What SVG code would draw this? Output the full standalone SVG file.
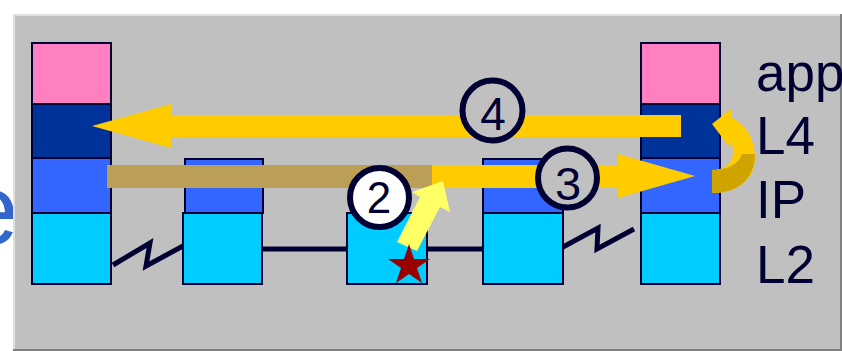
<svg xmlns="http://www.w3.org/2000/svg" width="842" height="351" viewBox="0 0 842 351">
<style>
.box{stroke:#000033;stroke-width:2}
.app{fill:#FF80C0}
.l4{fill:#003399}
.ip{fill:#3366FF}
.l2{fill:#00CCFF}
.link{fill:none;stroke:#000033;stroke-width:5;stroke-linejoin:miter}
.lbl{font-family:"Liberation Sans",Arial,sans-serif;fill:#000033;font-size:53px}
.num{font-family:"Liberation Sans",Arial,sans-serif;fill:#000033;text-anchor:middle}
.circ{stroke:#000033;stroke-width:6}
</style>
<defs>
<clipPath id="lowerClip"><rect x="690" y="154" width="80" height="50"/></clipPath>
</defs>
<rect width="842" height="351" fill="#FFFFFF"/>
<text x="-37" y="244" font-family="Liberation Sans,Arial,sans-serif" font-size="100" fill="#3366CC">e</text>
<g id="panel">
<rect x="13" y="14" width="829" height="337" fill="#808080"/>
<rect x="13" y="14" width="827" height="335" fill="#E0E0E0"/>
<rect x="15" y="16" width="825" height="333" fill="#C0C0C0"/>
</g>
<g id="links">
<polyline class="link" points="113,265 150,243 146,266 183,246"/>
<line class="link" x1="262" y1="249" x2="347" y2="249"/>
<line class="link" x1="427" y1="249" x2="483" y2="249"/>
<polyline class="link" points="563,247 598,228 597,249 634,229"/>
</g>
<g id="host-left">
<rect class="box app" x="32" y="43" width="79" height="61"/>
<rect class="box l4" x="32" y="104" width="79" height="54"/>
<rect class="box ip" x="32" y="158" width="79" height="55"/>
<rect class="box l2" x="32" y="213" width="79" height="71"/>
</g>
<g id="router1">
<rect class="box ip" x="185" y="159" width="78" height="54"/>
<rect class="box l2" x="183" y="213" width="79" height="71"/>
</g>
<g id="switch">
<rect class="box l2" x="347" y="213" width="80" height="71"/>
</g>
<g id="router2">
<rect class="box ip" x="483" y="159" width="80" height="54"/>
<rect class="box l2" x="483" y="213" width="80" height="71"/>
</g>
<g id="host-right">
<rect class="box app" x="641" y="43" width="79" height="61"/>
<rect class="box l4" x="641" y="104" width="79" height="54"/>
<rect class="box ip" x="641" y="158" width="79" height="55"/>
<rect class="box l2" x="641" y="213" width="79" height="71"/>
<text class="lbl" x="756" y="91">app</text>
<text class="lbl" x="756" y="154">L4</text>
<text class="lbl" x="756" y="218">IP</text>
<text class="lbl" x="756" y="283">L2</text>
</g>
<g id="connectors">
<polygon fill="#FFCC00" points="681,115 171,115 171,104 92,126 171,148 171,137 681,137"/>
<rect x="107" y="165" width="325" height="23" fill="#BC9F56"/>
<polygon fill="#FFCC00" points="432,165 618,165 618,154 695,176 618,198 618,188 432,188"/>
<path fill="#FFCC00" d="M712,170 C725,170 733,163 733,153 C733,147 732,143 731,140 L730,148 L712,124 L732,108 L732,118 C746,124 755,140 755,158 C755,180 737,193 712,193 Z"/>
<path fill="#D0A400" clip-path="url(#lowerClip)" d="M712,170 C725,170 738,166 742,154 L755,154 C755,180 737,193 712,193 Z"/>
<polygon fill="#FFFF66" points="443,181 450,212 440,207 417,251 397,242 420,197 412,192"/>
<polygon fill="#990000" points="409,244 414,259 430,259 417,268 422,283 409,274 396,283 401,268 388,259 404,259"/>
</g>
<g id="step4">
<circle class="circ" cx="492.5" cy="110.5" r="30" fill="#C0C0C0"/>
<text class="num" x="493" y="130" font-size="46">4</text>
</g>
<g id="step3">
<circle class="circ" cx="567.5" cy="178" r="29.5" fill="#C0C0C0"/>
<text class="num" x="568" y="200" font-size="47">3</text>
</g>
<g id="step2">
<circle class="circ" cx="379.5" cy="197.5" r="29.5" fill="#FFFFFF"/>
<text class="num" x="379" y="213" font-size="44">2</text>
</g>
</svg>
